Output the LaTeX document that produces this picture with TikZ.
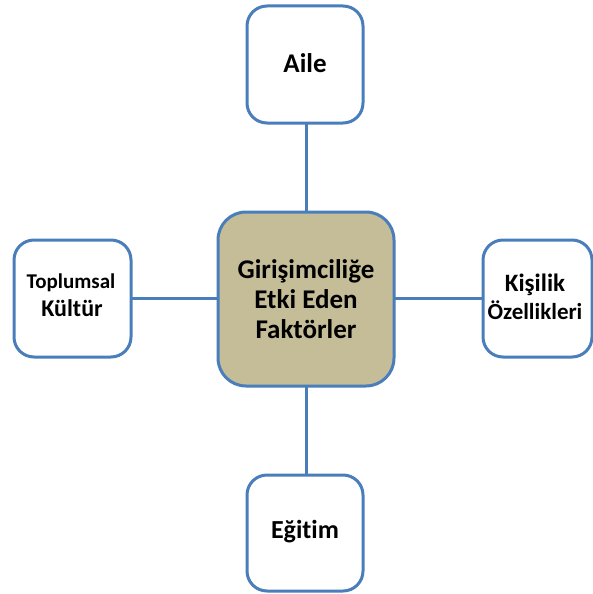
\documentclass[tikz,border=0pt]{standalone}
\usepackage{fontspec}
\setmainfont{Carlito}[Ligatures=NoCommon]
\definecolor{edgeblue}{HTML}{4A7EBB}
\definecolor{tan}{HTML}{C4BD97}
\begin{document}
\begin{tikzpicture}[x=1pt,y=-1pt,
  box/.style={draw=edgeblue, line width=3pt, rounded corners=20pt, fill=white},
  centerbox/.style={box, fill=tan, rounded corners=28pt},
  link/.style={draw=edgeblue, line width=3pt},
  lbl/.style={font=\bfseries, align=center, inner sep=0pt}]
\useasboundingbox (0,0) rectangle (593,594);
% connectors
\draw[link] (306,124) -- (306,474);
\draw[link] (132,298) -- (482,298);
% boxes
\draw[box] (247,6) rectangle (363,123);
\draw[box] (247,475) rectangle (363,591);
\draw[box] (14,240) rectangle (131,357);
\draw[box] (483,240) rectangle (592,357);
\draw[centerbox] (218,212) rectangle (394,386);
% labels
\node[lbl, font=\bfseries\fontsize{27}{30}\selectfont] (center) at (306,299) {Girişimciliğe\\Etki Eden\\Faktörler};
\node[lbl, font=\bfseries\fontsize{27}{30}\selectfont] (aile) at (305,63) {Aile};
\node[lbl, font=\bfseries\fontsize{26}{30}\selectfont] (egitim) at (305,532) {Eğitim};
\node[lbl, font=\bfseries\fontsize{21}{24}\selectfont] (top) at (71,283) {Toplumsal};
\node[lbl, font=\bfseries\fontsize{24}{28}\selectfont] (kul) at (72,308) {Kültür};
\node[lbl, font=\bfseries\fontsize{25}{28}\selectfont] (kis) at (535,285) {Kişilik};
\node[lbl, font=\bfseries\fontsize{23}{24}\selectfont] (oz) at (535,310) {Özellikleri};
\end{tikzpicture}
\end{document}
